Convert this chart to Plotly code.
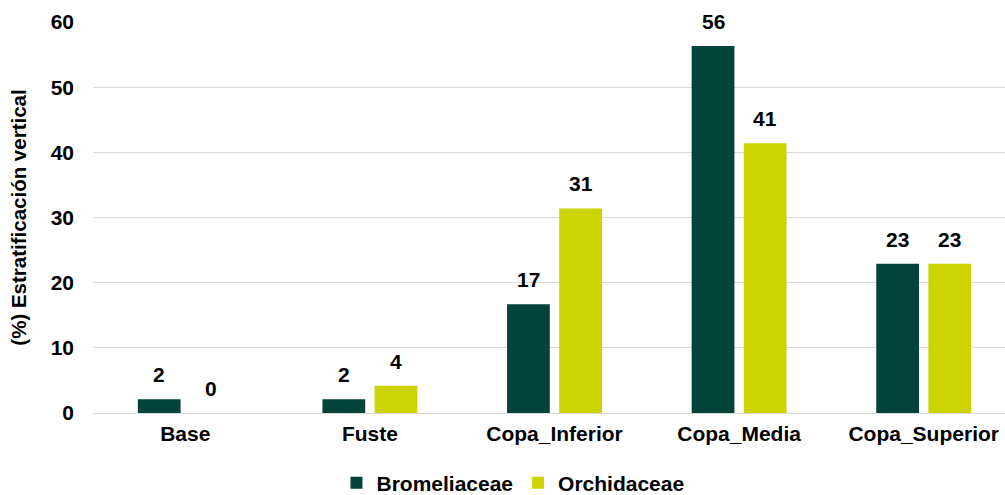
import plotly.graph_objects as go

categories = ["Base", "Fuste", "Copa_Inferior", "Copa_Media", "Copa_Superior"]
bromeliaceae = [2.1, 2.1, 16.7, 56.3, 22.9]
orchidaceae = [0.0, 4.2, 31.4, 41.4, 22.9]
y_ticks = [0, 10, 20, 30, 40, 50, 60]

font = "Liberation Sans, Arial, sans-serif"
colors = {"Bromeliaceae": "#04433A", "Orchidaceae": "#CCD300"}
series = {"Bromeliaceae": bromeliaceae, "Orchidaceae": orchidaceae}

fig = go.Figure()
for name, vals in series.items():
    fig.add_trace(go.Bar(
        name=f"<b>{name}</b>", x=categories, y=vals,
        marker=dict(color=colors[name], line=dict(width=0)),
    ))

# value labels placed above each bar (offset to each bar of the group)
for shift, vals in zip([-26, 26], [bromeliaceae, orchidaceae]):
    for c, v in zip(categories, vals):
        fig.add_annotation(
            x=c, y=v, xref="x", yref="y", text=f"<b>{v:.0f}</b>",
            showarrow=False, xshift=shift, yshift=11, yanchor="bottom",
            font=dict(size=21, color="#000000", family=font),
        )

fig.update_layout(
    width=1016, height=495,
    margin=dict(l=93, r=0, t=22, b=82),
    plot_bgcolor="white", paper_bgcolor="white",
    barmode="group", bargap=0.435, bargroupgap=0.18,
    font=dict(family=font, size=21, color="#000000"),
    legend=dict(orientation="h", x=0.455, xanchor="center",
                yref="container", y=0.024, yanchor="middle",
                font=dict(size=21, family=font), traceorder="normal",
                tracegroupgap=0),
)
fig.update_yaxes(
    range=[0, 60], tickvals=y_ticks, ticktext=[f"<b>{v}</b>" for v in y_ticks],
    showgrid=True, gridcolor="#D9D9D9", gridwidth=1.3,
    zeroline=True, zerolinecolor="#D9D9D9", zerolinewidth=1.3,
    ticks="", ticklabelstandoff=18, automargin=False,
    title=dict(text="<b>(%) Estratificación vertical</b>", font=dict(size=20.5), standoff=18),
    tickfont=dict(size=21),
)
fig.update_xaxes(
    tickvals=categories, ticktext=[f"<b>{c}</b>" for c in categories],
    showline=False, ticks="", tickfont=dict(size=21), automargin=False,
    ticklabelstandoff=6,
)

fig.write_html(
    "out.html",
    config={"displayModeBar": False},
    post_script="document.body.style.margin='0';document.body.style.overflow='hidden';",
)
